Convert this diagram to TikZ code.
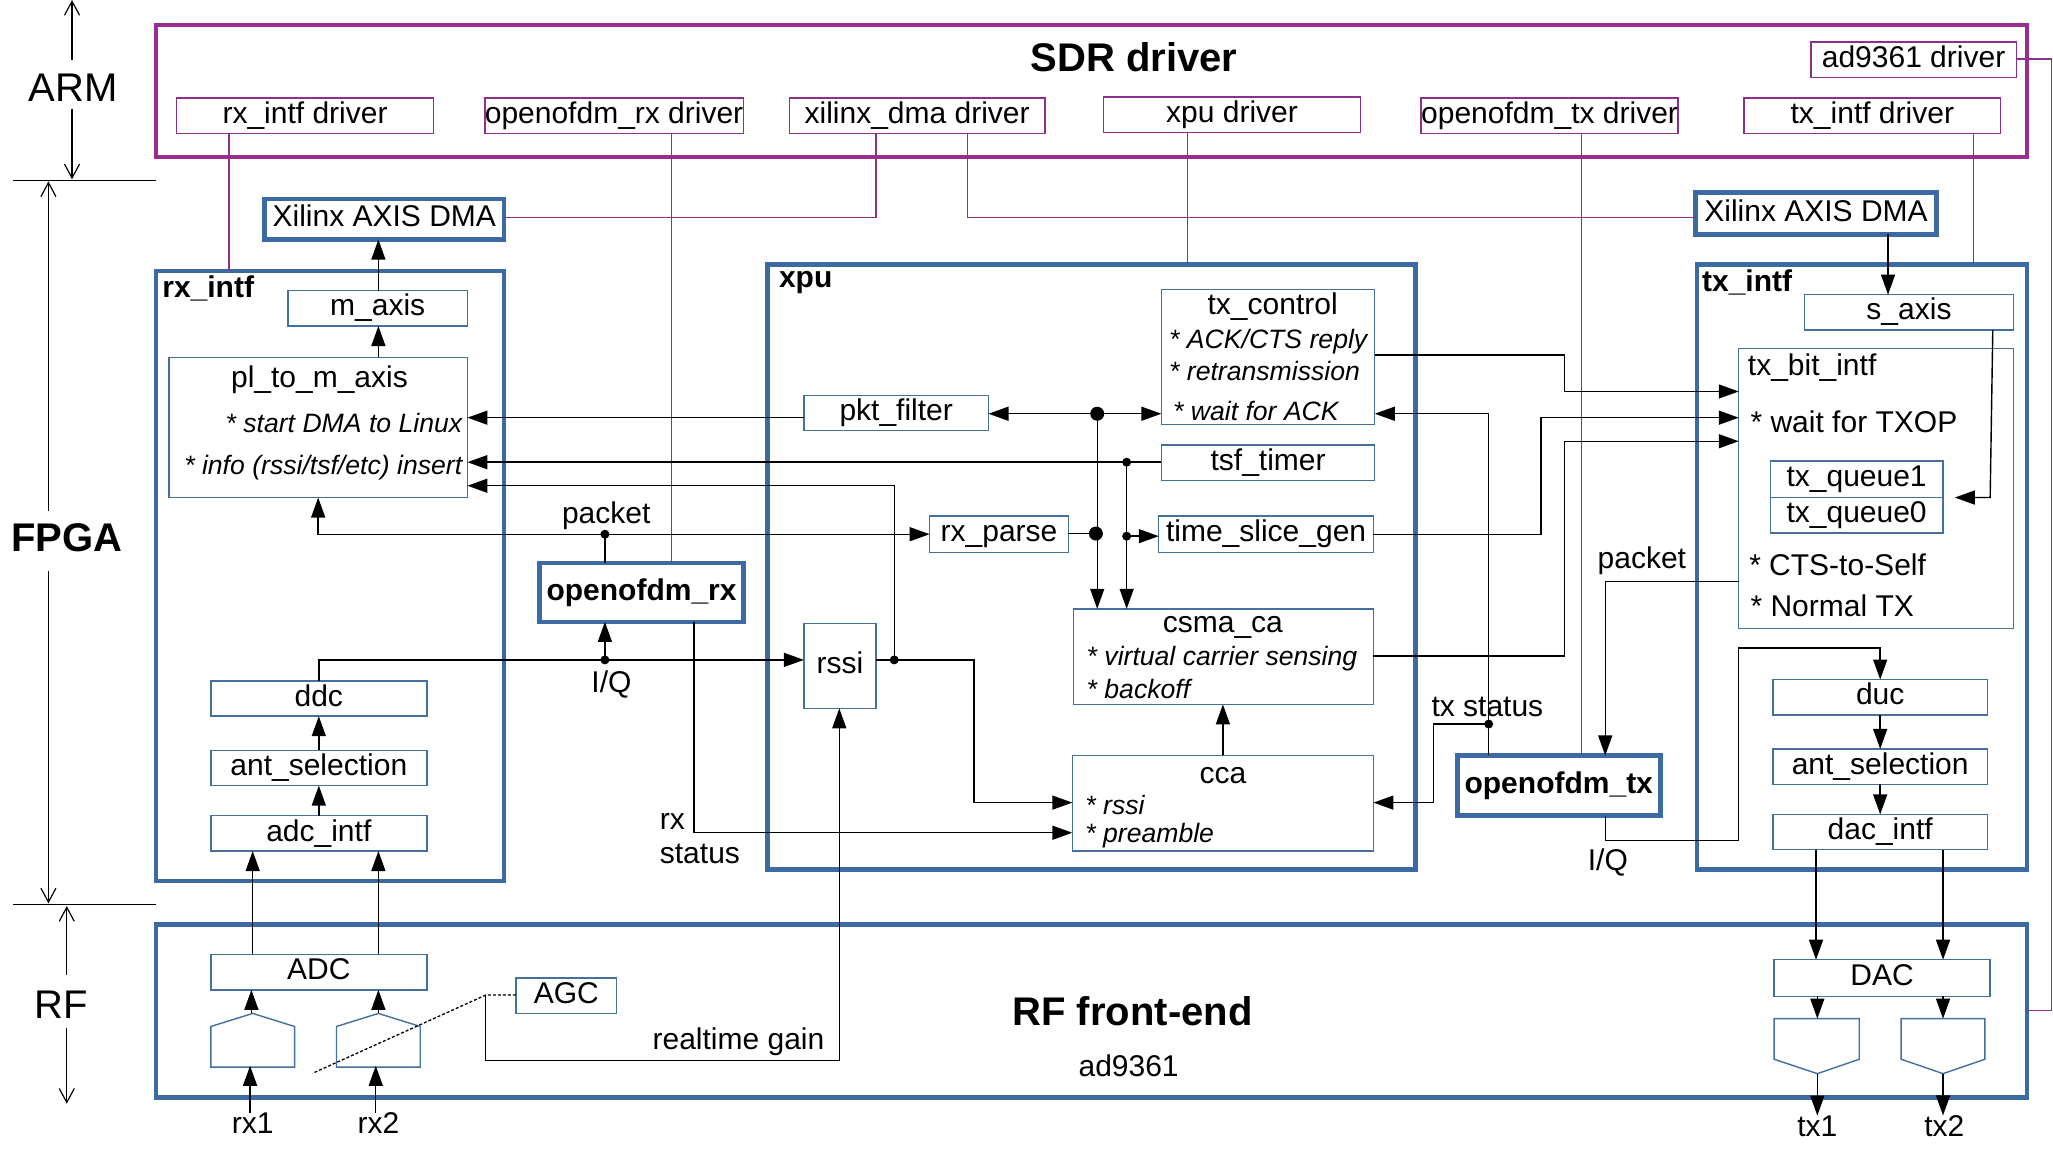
\documentclass[tikz,border=0pt]{standalone}
\usepackage{fontspec}
\setmainfont{Liberation Sans}
\usetikzlibrary{arrows.meta,calc}
\definecolor{pur}{HTML}{9B2D8E}
\definecolor{purthin}{HTML}{8E2F8E}
\definecolor{blu}{HTML}{3C6AA5}
\definecolor{bluthin}{HTML}{44709D}
\newcommand{\bx}[6]{%
  \pgfmathsetlengthmacro{\bxw}{(#5-#3)*1.30931pt}%
  \pgfmathsetlengthmacro{\bxh}{(#6-#4)*1.30931pt}%
  \node[#1,minimum width=\bxw,minimum height=\bxh] (#2) at ({(#3+#5)/2},{(#4+#6)/2}) {\csname bxt#2\endcsname};}
\tikzset{
  base/.style={inner sep=0pt,outer sep=0pt,text height=21.6pt,text depth=6.3pt,align=center,font=\fontsize{30}{36}\selectfont},
  thinblue/.style={base,draw=bluthin,line width=1.4pt},
  thickblue/.style={base,draw=blu,line width=4.6pt},
  thinpur/.style={base,draw=purthin,line width=1.4pt},
  thickpur/.style={base,draw=pur,line width=4.6pt},
  pline/.style={draw=purthin,line width=1.3pt},
  wire/.style={draw=black,line width=1.4pt},
  arr/.style={wire,-{Triangle[length=20pt,width=14pt]}},
  darr/.style={wire,{Triangle[length=20pt,width=14pt]}-{Triangle[length=20pt,width=14pt]}},
  scalearr/.style={draw=black,line width=1.2pt,-{Straight Barb[length=14pt,width=15pt]}},
  sep/.style={draw=black,line width=1.4pt},
  txt/.style={inner sep=0pt,outer sep=0pt,font=\fontsize{30}{36}\selectfont},
  big/.style={inner sep=0pt,outer sep=0pt,font=\fontsize{40}{48}\selectfont},
  bigb/.style={inner sep=0pt,outer sep=0pt,font=\fontsize{40}{48}\bfseries\selectfont},
  bld/.style={inner sep=0pt,outer sep=0pt,font=\fontsize{30}{36}\bfseries\selectfont},
  ital/.style={inner sep=0pt,outer sep=0pt,font=\fontsize{26.6}{32}\itshape\selectfont},
  sdot/.style={circle,fill=black,inner sep=0pt,minimum size=9pt},
  bdot/.style={circle,fill=black,inner sep=0pt,minimum size=14pt},
}
\begin{document}
\begin{tikzpicture}[x=1.30931pt,y=-1.30931pt]
\useasboundingbox (0,0) rectangle (1568,879.85);
\fill[white] (0,0) rectangle (1568,879.85);
% texts inside boxes
\def\bxtsdrbox{}\def\bxtrxdrv{rx\_intf driver}\def\bxtofrxdrv{openofdm\_rx driver}
\def\bxtdmadrv{xilinx\_dma driver}\def\bxtxpudrv{xpu driver}\def\bxtoftxdrv{openofdm\_tx driver}
\def\bxttxdrv{tx\_intf driver}\def\bxtaddrv{ad9361 driver}
\def\bxtdmal{Xilinx AXIS DMA}\def\bxtdmar{Xilinx AXIS DMA}
\def\bxtrxintf{}\def\bxtxpu{}\def\bxttxintf{}\def\bxtrfbox{}
\def\bxtofrx{\bfseries openofdm\_rx}\def\bxtoftx{\bfseries openofdm\_tx}
\def\bxtmaxis{m\_axis}\def\bxtpl{}\def\bxtddc{ddc}\def\bxtantl{ant\_selection}\def\bxtadcintf{adc\_intf}
\def\bxtadc{ADC}\def\bxtagc{AGC}\def\bxtrssi{rssi}\def\bxtpkt{pkt\_filter}\def\bxtparse{rx\_parse}
\def\bxttxc{}\def\bxttsf{tsf\_timer}\def\bxttsg{time\_slice\_gen}\def\bxtcsma{}\def\bxtcca{}
\def\bxtsaxis{s\_axis}\def\bxtbit{}\def\bxtqa{tx\_queue1}\def\bxtqb{tx\_queue0}
\def\bxtduc{duc}\def\bxtantr{ant\_selection}\def\bxtdacintf{dac\_intf}\def\bxtdac{DAC}
% boxes
\bx{thickpur}{sdrbox}{119}{19}{1548}{120}
\bx{thinpur}{rxdrv}{135}{75}{331}{102}
\bx{thinpur}{ofrxdrv}{371}{75}{567}{102}
\bx{thinpur}{dmadrv}{603}{75}{798}{102}
\bx{thinpur}{xpudrv}{843}{74}{1039}{101}
\bx{thinpur}{oftxdrv}{1086}{75}{1281}{102}
\bx{thinpur}{txdrv}{1332}{75}{1528}{102}
\bx{thinpur}{addrv}{1383}{32}{1540}{59}
\bx{thickblue}{dmal}{202}{152}{385}{183}
\bx{thickblue}{dmar}{1295}{147}{1479}{179}
\bx{thickblue}{rxintf}{119}{207}{385}{673}
\bx{thickblue}{xpu}{586}{202}{1081}{664}
\bx{thickblue}{txintf}{1296}{202}{1548}{664}
\bx{thickblue}{ofrx}{412}{430}{568}{475}
\bx{thickblue}{oftx}{1113}{577}{1268}{623}
\bx{thickblue}{rfbox}{119}{706}{1548}{838}
\bx{thinblue}{maxis}{220}{222}{357}{249}
\bx{thinblue}{pl}{129}{273}{357}{380}
\bx{thinblue}{ddc}{161}{520}{326}{547}
\bx{thinblue}{antl}{161}{573}{326}{600}
\bx{thinblue}{adcintf}{161}{623}{326}{650}
\bx{thinblue}{adc}{161}{729}{326}{756}
\bx{thinblue}{agc}{394}{747}{471}{774}
\bx{thinblue}{rssi}{614}{476}{669}{541}
\bx{thinblue}{pkt}{614}{302}{755}{329}
\bx{thinblue}{parse}{710}{394}{816}{422}
\bx{thinblue}{txc}{887}{221}{1050}{324}
\bx{thinblue}{tsf}{887}{340}{1050}{367}
\bx{thinblue}{tsg}{885}{394}{1049}{422}
\bx{thinblue}{csma}{820}{465}{1049}{538}
\bx{thinblue}{cca}{819}{577}{1049}{650}
\bx{thinblue}{saxis}{1378}{225}{1538}{252}
\bx{thinblue}{bit}{1328}{266}{1538}{480}
\bx{thinblue}{qa}{1352}{352}{1484}{380}
\bx{thinblue}{qb}{1352}{380}{1484}{407}
\bx{thinblue}{duc}{1354}{519}{1518}{546}
\bx{thinblue}{antr}{1354}{572}{1518}{599}
\bx{thinblue}{dacintf}{1354}{622}{1518}{649}
\bx{thinblue}{dac}{1355}{733}{1520}{761}
% pentagons
\draw[bluthin,line width=1.4pt] (161,784)--(193,774)--(225,784)--(225,815)--(161,815)--cycle;
\draw[bluthin,line width=1.4pt] (257,784)--(289,774)--(321,784)--(321,815)--(257,815)--cycle;
\draw[bluthin,line width=1.4pt] (1355,778)--(1420,778)--(1420,809)--(1388,820)--(1355,809)--cycle;
\draw[bluthin,line width=1.4pt] (1452,778)--(1516,778)--(1516,809)--(1484,820)--(1452,809)--cycle;
% side labels
\node[big] (larm) at (56,67) {ARM};
\node[bigb] (lfpga) at (51,411) {FPGA};
\node[big] (lrf) at (47,767) {RF};
\coordinate (armtop) at (55,0);
\coordinate (sepa) at (10,138); \coordinate (sepb) at (119,138);
\coordinate (sepc) at (10,691); \coordinate (sepd) at (119,691);
\coordinate (rfbot) at (51,843);
\draw[sep] (sepa)--(sepb);
\draw[sep] (sepc)--(sepd);
\draw[scalearr] (55,46)--(armtop);
\draw[scalearr] (55,83)--(55,137);
\draw[scalearr] (37,390)--(37,138.5);
\draw[scalearr] (37,436)--(37,690);
\draw[scalearr] (51,745)--(51,692);
\draw[scalearr] (51,785)--(rfbot);
% titles
\node[bigb] (tsdr) at (866,44) {SDR driver};
\node[bigb] (trf) at (865,772) {RF front-end};
\node[txt] (tad) at (862,814) {ad9361};
\node[bld,anchor=west] (trx) at (124,220) {rx\_intf};
\node[bld,anchor=west] (txp) at (595,216) {xpu};
\node[bld,anchor=west] (ttx) at (1300,216) {tx\_intf};
% multi-line box texts
\node[txt] (t1) at (244,290) {pl\_to\_m\_axis};
\node[ital,anchor=east] (t2) at (353,323) {* start DMA to Linux};
\node[ital,anchor=east] (t3) at (353,357) {* info (rssi/tsf/etc) insert};
\node[txt] (t4) at (972,234) {tx\_control};
\node[ital,anchor=west] (t5) at (893,261) {* ACK/CTS reply};
\node[ital,anchor=west] (t6) at (893,283) {* retransmission};
\node[ital,anchor=west] (t7) at (896,314) {* wait for ACK};
\node[txt] (t8) at (934,479) {csma\_ca};
\node[ital,anchor=west] (t9) at (830,503) {* virtual carrier sensing};
\node[ital,anchor=west] (t10) at (830,526) {* backoff};
\node[txt] (t11) at (934,592) {cca};
\node[ital,anchor=west] (t12) at (829,615) {* rssi};
\node[ital,anchor=west] (t13) at (829,638) {* preamble};
\node[txt,anchor=west] (t14) at (1335,281) {tx\_bit\_intf};
\node[txt,anchor=west] (t15) at (1337,322) {* wait for TXOP};
\node[txt,anchor=west] (t16) at (1336,431) {* CTS-to-Self};
\node[txt,anchor=west] (t17) at (1337,463) {* Normal TX};
% free labels
\node[txt] (lp1) at (463,394) {packet};
\node[txt] (liq1) at (467,523) {I/Q};
\node[txt,anchor=west] (lrx) at (504,627) {rx};
\node[txt,anchor=west] (lst) at (504,652) {status};
\node[txt] (lgain) at (564,796) {realtime gain};
\node[txt] (lp2) at (1254,428) {packet};
\node[txt] (ltxs) at (1136,540) {tx status};
\node[txt] (liq2) at (1228,659) {I/Q};
\node[txt] (rx1) at (193,858) {rx1};
\node[txt] (rx2) at (289,858) {rx2};
\node[txt] (tx1) at (1388,860) {tx1};
\node[txt] (tx2) at (1485,860) {tx2};
% purple connectors
\draw[pline] (rxdrv.south -| 175,0)--(rxintf.north -| 175,0);
\draw[pline] (ofrxdrv.south -| 513,0)--(ofrx.north -| 513,0);
\draw[pline] (dmadrv.south -| 669,0)|-(dmal.east |- 0,166);
\draw[pline] (dmadrv.south -| 739,0)|-(dmar.west |- 0,166);
\draw[pline] (xpudrv.south -| 907,0)--(xpu.north -| 907,0);
\draw[pline] (oftxdrv.south -| 1208,0)--(oftx.north -| 1208,0);
\draw[pline] (txdrv.south -| 1507,0)--(txintf.north -| 1507,0);
\draw[pline] (addrv.east |- 0,45)--(1567,45)--(1567,772)--(rfbox.east |- 0,772);
% dots
\node[sdot] (dp1) at (462,408) {};
\node[sdot] (diq1) at (462,504) {};
\node[sdot] (drs) at (683,504) {};
\node[bdot] (dpk) at (838,316) {};
\node[bdot] (dpa) at (837,407.5) {};
\node[sdot] (dts) at (860.5,353) {};
\node[sdot] (dtg) at (860.5,409.5) {};
\node[sdot] (dst) at (1137,553) {};
% black connectors, rx side
\draw[arr] (maxis.north -| 289,0)--(dmal.south -| 289,0);
\draw[arr] (pl.north -| 289,0)--(maxis.south -| 289,0);
\draw[arr] (pkt.west |- 0,319)--(pl.east |- 0,319);
\draw[arr] (tsf.west |- 0,353)--(pl.east |- 0,353);
\draw[arr] (drs.center)--(683,371)--(pl.east |- 0,371);
\draw[darr] (pl.south -| 243,0)|-(parse.west);
\draw[wire] (dp1.center)--(ofrx.north -| dp1);
\draw[arr] (diq1.center)--(ofrx.south -| diq1);
\draw[arr] (ddc.north)|-(rssi.west |- 0,504);
\draw[arr] (rssi.east |- 0,504)--(744,504)--(744,613)--(cca.west |- 0,613);
\draw[arr] (ofrx.south -| 530,0)--(530,636)--(cca.west |- 0,636);
\draw[arr] (antl.north)--(ddc.south);
\draw[arr] (adcintf.north)--(antl.south);
\draw[arr] (adc.north -| 193,0)--(adcintf.south -| 193,0);
\draw[arr] (adc.north -| 289,0)--(adcintf.south -| 289,0);
\draw[arr] (192,774)--(adc.south -| 192,0);
\draw[arr] (289,774)--(adc.south -| 289,0);
\draw[arr] (rx1.north -| 191,0)--(191,814);
\draw[arr] (rx2.north -| 287,0)--(287,814);
\draw[arr] (371,760)--(371,810)--(641,810)--(rssi.south -| 641,0);
\draw[black,line width=1.3pt,dash pattern=on 3pt off 2pt] (agc.west |- 0,760)--(371,760)--(238.8,819.7);
% xpu
\draw[darr] (pkt.east |- 0,316)--(txc.west |- 0,316);
\draw[arr] (dpk.center)--(csma.north -| dpk);
\draw[arr] (dts.center)--(csma.north -| dts);
\draw[wire] (parse.east |- dpa)--(dpa.center);
\draw[arr] (dtg.center)--(tsg.west |- dtg);
\draw[arr] (cca.north -| 934,0)--(csma.south -| 934,0);
% tx side
\draw[arr] (txc.east |- 0,271)--(1195,271)--(1195,299)--(bit.west |- 0,299);
\draw[arr] (tsg.east)--(1177,408)--(1177,319)--(bit.west |- 0,319);
\draw[arr] (csma.east |- 0,501)--(1195,501)--(1195,337)--(bit.west |- 0,337);
\draw[arr] (oftx.north -| 1137,0)--(1137,316)--(txc.east |- 0,316);
\draw[arr] (dst.center)--(1095,553)--(1095,613)--(cca.east |- 0,613);
\draw[arr] (bit.west |- 0,444)--(1226,444)--(oftx.north -| 1226,0);
\draw[arr] (oftx.south -| 1226,0)--(1226,642)--(1328,642)--(1328,495)--(1436,495)--(duc.north -| 1436,0);
\draw[arr] (duc.south -| 1436,0)--(antr.north -| 1436,0);
\draw[arr] (antr.south -| 1436,0)--(dacintf.north -| 1436,0);
\draw[arr] (dmar.south -| 1442,0)--(saxis.north -| 1442,0);
\draw[arr] (saxis.south -| 1522,0)--(1520,380)--(1493,380);
\draw[arr] (dacintf.south -| 1387,0)--(dac.north -| 1387,0);
\draw[arr] (dacintf.south -| 1484,0)--(dac.north -| 1484,0);
\draw[arr] (dac.south -| 1388,0)--(1388,778);
\draw[arr] (dac.south -| 1484,0)--(1484,778);
\draw[arr] (1388,820)--(tx1.north -| 1388,0);
\draw[arr] (1484,820)--(tx2.north -| 1484,0);
\end{tikzpicture}
\end{document}
